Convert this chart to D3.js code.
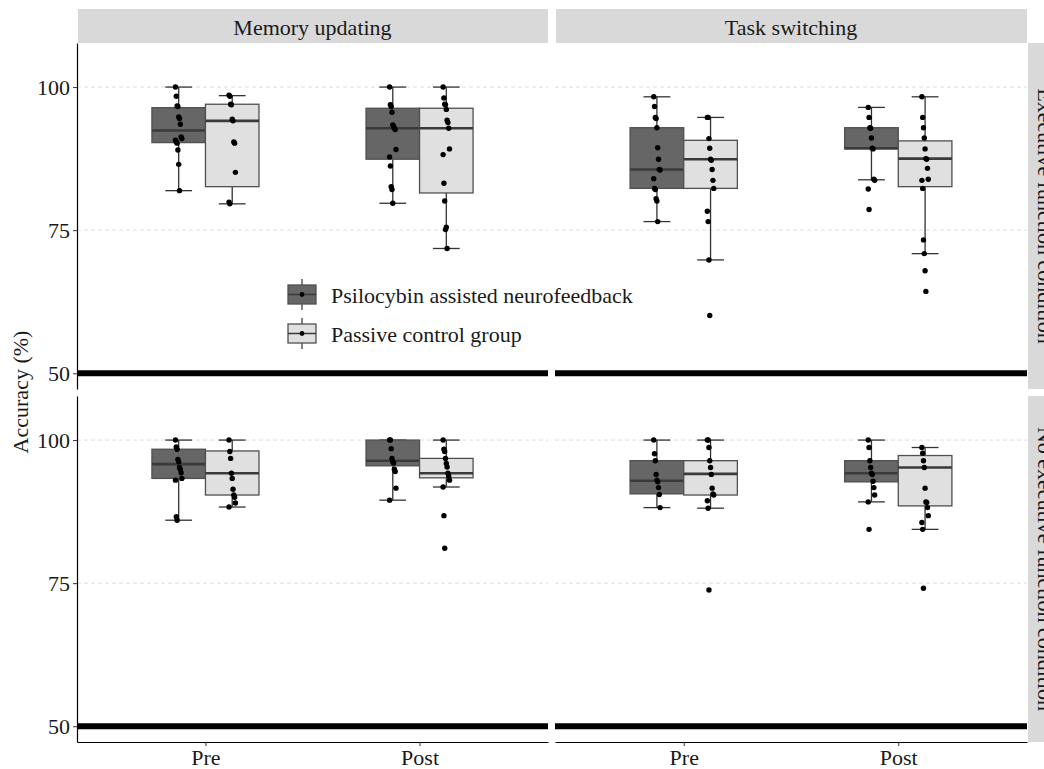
<!DOCTYPE html>
<html>
<head>
<meta charset="utf-8">
<script src="https://cdn.jsdelivr.net/npm/d3@7"></script>
<style>
  body { margin: 0; background: #fff; }
  svg text { font-family: "Liberation Serif", "Times New Roman", serif; }
</style>
</head>
<body>
<svg id="chart" width="1044" height="769"></svg>
<script>
// facets, categories and groups
const columns = ["Memory updating", "Task switching"];
const rows = ["Executive function condition", "No executive function condition"];
const times = ["Pre", "Post"];
const groups = ["Psilocybin assisted neurofeedback", "Passive control group"];
const yTicks = [50, 75, 100];

// box stats: [lower whisker, q1, median, q3, upper whisker]
// order: Pre-psilocybin, Pre-control, Post-psilocybin, Post-control
const boxMemExec = [
  [81.9, 90.3, 92.4, 96.4, 100],
  [79.6, 82.6, 94.1, 97.0, 98.5],
  [79.7, 87.4, 92.8, 96.3, 100],
  [71.8, 81.5, 92.8, 96.3, 100]
];
const boxTaskExec = [
  [76.5, 82.3, 85.6, 92.9, 98.3],
  [69.8, 82.3, 87.4, 90.7, 94.7],
  [83.8, 89.2, 89.3, 92.9, 96.45],
  [70.9, 82.6, 87.5, 90.6, 98.3]
];
const boxMemNoExec = [
  [86.0, 93.3, 95.8, 98.4, 100],
  [88.3, 90.4, 94.2, 98.1, 100],
  [89.5, 95.5, 96.4, 100, 100],
  [91.8, 93.4, 94.2, 96.8, 100]
];
const boxTaskNoExec = [
  [88.2, 90.6, 92.9, 96.4, 100],
  [88.1, 90.4, 94.1, 96.4, 100],
  [89.2, 92.7, 94.2, 96.4, 100],
  [84.4, 88.5, 95.2, 97.3, 98.7]
];

// individual accuracies (same order)
const ptsMemExec = [
  [100, 98.4, 96.7, 96.6, 94.8, 94.5, 93.5, 91.3, 91.0, 90.7, 90.4, 90.2, 89.0, 86.5, 81.9],
  [98.6, 98.4, 97.0, 96.9, 94.4, 94.1, 90.4, 90.2, 85.1, 79.9, 79.6],
  [100, 96.9, 96.6, 95.6, 93.4, 93.1, 92.8, 92.6, 89.1, 87.8, 86.2, 82.6, 82.1, 79.7],
  [100, 98.1, 97.0, 96.9, 96.1, 94.2, 93.8, 92.8, 89.2, 88.2, 83.2, 80.1, 75.1, 75.5, 71.8]
];
const ptsTaskExec = [
  [98.3, 96.6, 94.7, 94.5, 92.9, 89.4, 87.4, 85.6, 85.5, 84.0, 82.3, 82.1, 80.5, 80.1, 76.5],
  [94.7, 94.7, 91.0, 89.3, 87.4, 87.2, 85.6, 83.7, 82.3, 78.3, 76.5, 69.8, 60.1],
  [96.45, 94.7, 92.9, 92.8, 91.1, 89.3, 89.2, 83.9, 83.7, 82.2, 78.6],
  [98.3, 94.7, 92.9, 91.1, 89.2, 87.5, 87.4, 85.8, 83.9, 83.7, 82.3, 73.3, 70.9, 67.9, 64.3]
];
const ptsMemNoExec = [
  [100, 98.8, 98.4, 96.6, 96.2, 95.2, 94.9, 94.3, 93.3, 93.0, 86.6, 86.0],
  [100, 98.0, 96.8, 94.2, 93.3, 91.4, 90.4, 90.0, 89.0, 88.3],
  [100, 100, 98.5, 96.8, 96.2, 96.0, 94.9, 94.5, 91.6, 89.5],
  [100, 98.4, 98.0, 96.8, 95.9, 95.3, 94.2, 93.7, 93.0, 91.8, 86.8, 81.1]
];
const ptsTaskNoExec = [
  [100, 97.6, 96.4, 94.0, 93.0, 92.7, 91.7, 90.5, 88.2],
  [100, 100, 98.7, 96.4, 95.2, 94.0, 91.6, 90.6, 90.4, 89.4, 88.1, 73.8],
  [100, 98.7, 96.4, 95.2, 94.2, 94.0, 92.8, 91.7, 90.4, 89.2, 84.4],
  [98.7, 97.7, 96.4, 95.2, 91.6, 89.2, 89.1, 88.2, 86.8, 85.6, 84.4, 74.1]
];

const boxes = [[boxMemExec, boxTaskExec], [boxMemNoExec, boxTaskNoExec]];
const points = [[ptsMemExec, ptsTaskExec], [ptsMemNoExec, ptsTaskNoExec]];

var svg = d3.select("#chart");
var fills = ["#666666", "#e0e0e0"];
var boxLine = "#505050";

var panelX = [[77, 548], [555, 1027]];
var panelY = [[43, 389], [396, 742]];
var yDomain = [47.25, 107.7];

rows.forEach((rowName, r) => {
  var y = d3.scaleLinear().domain(yDomain).range([panelY[r][1], panelY[r][0]]);

  columns.forEach((colName, c) => {
    var x = d3.scalePoint().domain(times).range(panelX[c]).padding(0.6);
    var bw = x.step() * 0.25;
    var g = svg.append("g");

    // dashed grid
    g.selectAll(".grid")
      .data([75, 100])
      .enter().append("line")
        .attr("x1", panelX[c][0]).attr("x2", panelX[c][1])
        .attr("y1", d => y(d)).attr("y2", d => y(d))
        .attr("stroke", "#dedede")
        .attr("stroke-dasharray", "4,3")
        .attr("stroke-width", 1);

    // chance line
    g.append("line")
      .attr("x1", panelX[c][0]).attr("x2", panelX[c][1])
      .attr("y1", y(50)).attr("y2", y(50))
      .attr("stroke", "#000").attr("stroke-width", 6);

    times.forEach((t, ti) => {
      groups.forEach((grp, gi) => {
        var s = boxes[r][c][ti * 2 + gi];
        var cx = x(t) + (gi === 0 ? -bw / 2 : bw / 2);
        var bg = g.append("g");

        // whiskers
        bg.selectAll(".wh")
          .data([[s[0], s[1]], [s[3], s[4]]])
          .enter().append("line")
            .attr("x1", cx).attr("x2", cx)
            .attr("y1", d => y(d[0])).attr("y2", d => y(d[1]))
            .attr("stroke", "#333").attr("stroke-width", 1.3);
        bg.selectAll(".cap")
          .data([s[0], s[4]])
          .enter().append("line")
            .attr("x1", cx - bw / 4).attr("x2", cx + bw / 4)
            .attr("y1", d => y(d)).attr("y2", d => y(d))
            .attr("stroke", "#333").attr("stroke-width", 1.3);

        bg.append("rect")
          .attr("x", cx - bw / 2)
          .attr("y", y(s[3]))
          .attr("width", bw)
          .attr("height", y(s[1]) - y(s[3]))
          .attr("fill", fills[gi])
          .attr("stroke", boxLine)
          .attr("stroke-width", 1.3);
        bg.append("line")
          .attr("x1", cx - bw / 2).attr("x2", cx + bw / 2)
          .attr("y1", y(s[2])).attr("y2", y(s[2]))
          .attr("stroke", "#3a3a3a").attr("stroke-width", 2.6);

        // points, small fixed offsets so they do not stack exactly
        bg.selectAll("circle")
          .data(points[r][c][ti * 2 + gi])
          .enter().append("circle")
            .attr("cx", (d, i) => cx + ((i * 37) % 9 - 4) * 0.8)
            .attr("cy", d => y(d))
            .attr("r", 2.7)
            .attr("fill", "#000");
      });
    });

    // x axis on bottom row only
    if (r === 1) {
      g.append("g")
        .attr("transform", "translate(0," + panelY[r][1] + ")")
        .call(d3.axisBottom(x).tickSize(4).tickPadding(3).tickSizeOuter(0))
        .call(ax => {
          ax.select(".domain").attr("stroke", "#000").attr("stroke-width", 1.2);
          ax.selectAll(".tick line").attr("stroke", "#333");
          ax.selectAll("text").attr("font-size", 22).attr("fill", "#1a1a1a")
            .attr("font-family", "Liberation Serif");
        });
    }

    // top strip
    if (r === 0) {
      svg.append("rect")
        .attr("x", panelX[c][0] + 1).attr("y", 9)
        .attr("width", panelX[c][1] - panelX[c][0] - 1).attr("height", 34)
        .attr("fill", "#d9d9d9");
      svg.append("text")
        .attr("x", (panelX[c][0] + panelX[c][1]) / 2).attr("y", 27)
        .attr("text-anchor", "middle").attr("dominant-baseline", "central")
        .attr("font-size", 22).attr("fill", "#1a1a1a")
        .text(colName);
    }
  });

  // y axis on the left
  svg.append("g")
    .attr("transform", "translate(" + panelX[0][0] + ",0)")
    .call(d3.axisLeft(y).tickValues(yTicks).tickSize(4).tickPadding(3).tickSizeOuter(0))
    .call(ax => {
      ax.select(".domain").attr("stroke", "#000").attr("stroke-width", 1.2);
      ax.selectAll(".tick line").attr("stroke", "#333");
      ax.selectAll("text").attr("font-size", 22).attr("fill", "#1a1a1a")
        .attr("font-family", "Liberation Serif");
    });

  // right strip (text runs past the page edge, as in the original)
  svg.append("rect")
    .attr("x", 1028).attr("y", panelY[r][0])
    .attr("width", 34).attr("height", panelY[r][1] - panelY[r][0])
    .attr("fill", "#d9d9d9");
  var my = (panelY[r][0] + panelY[r][1]) / 2;
  svg.append("text")
    .attr("transform", "translate(1045," + my + ") rotate(90)")
    .attr("text-anchor", "middle").attr("dominant-baseline", "central")
    .attr("font-size", 22).attr("fill", "#1a1a1a")
    .text(rowName);
});

// y title
svg.append("text")
  .attr("transform", "translate(20,392) rotate(-90)")
  .attr("text-anchor", "middle").attr("dominant-baseline", "central")
  .attr("font-size", 22).attr("fill", "#1a1a1a")
  .text("Accuracy (%)");

// legend inside the top-left panel
var legend = svg.append("g").attr("transform", "translate(288,279)");
groups.forEach((grp, i) => {
  var lg = legend.append("g").attr("transform", "translate(0," + (i * 39) + ")");
  lg.append("line").attr("x1", 14).attr("x2", 14).attr("y1", 0).attr("y2", 31)
    .attr("stroke", "#333").attr("stroke-width", 1.2);
  lg.append("rect").attr("x", 0).attr("y", 6).attr("width", 28).attr("height", 19)
    .attr("fill", fills[i]).attr("stroke", boxLine).attr("stroke-width", 1.3);
  lg.append("line").attr("x1", 0).attr("x2", 28).attr("y1", 15.5).attr("y2", 15.5)
    .attr("stroke", "#3a3a3a").attr("stroke-width", 1.5);
  lg.append("circle").attr("cx", 14).attr("cy", 15.5).attr("r", 2.4).attr("fill", "#000");
  lg.append("text").attr("x", 43).attr("y", 16)
    .attr("dominant-baseline", "central")
    .attr("font-size", 22).attr("fill", "#1a1a1a")
    .text(grp);
});
</script>
</body>
</html>
